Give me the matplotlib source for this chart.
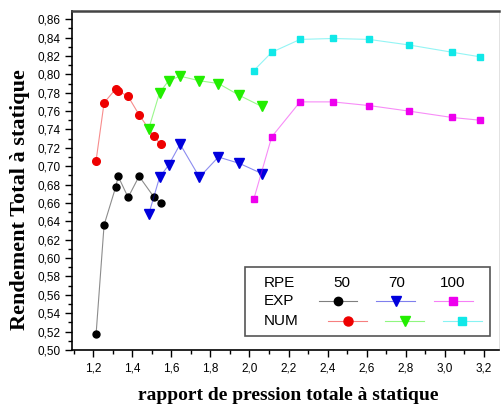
import numpy as np
import matplotlib
matplotlib.use("Agg")
import matplotlib.pyplot as plt
from matplotlib.lines import Line2D
from matplotlib.patches import Rectangle
from matplotlib.ticker import MultipleLocator, FuncFormatter

# values
x50 = [1.215, 1.256, 1.315, 1.328, 1.379, 1.435, 1.509, 1.545]
exp50 = [0.517, 0.636, 0.677, 0.689, 0.666, 0.689, 0.667, 0.660]
num50 = [0.706, 0.769, 0.784, 0.782, 0.776, 0.756, 0.733, 0.724]

x70 = [1.485, 1.540, 1.586, 1.645, 1.744, 1.841, 1.949, 2.063]
exp70 = [0.648, 0.688, 0.701, 0.724, 0.688, 0.710, 0.703, 0.692]
num70 = [0.741, 0.780, 0.793, 0.798, 0.793, 0.790, 0.777, 0.765]

x100 = [2.022, 2.114, 2.259, 2.426, 2.612, 2.815, 3.038, 3.182]
exp100 = [0.664, 0.732, 0.770, 0.770, 0.766, 0.760, 0.753, 0.750]
num100 = [0.804, 0.824, 0.838, 0.839, 0.838, 0.832, 0.824, 0.819]

rpe_labels = ["50", "70", "100"]

plt.rcParams['font.family'] = ['Liberation Sans', 'DejaVu Sans']

fig = plt.figure(figsize=(5.03, 4.05), dpi=100)
ax = fig.add_axes([0.144, 0.136, 0.848, 0.837])

series = [
    (x50, exp50, "black", "o", 5),
    (x50, num50, "#ee0000", "o", 5.5),
    (x70, exp70, "#0000dd", "v", 6.5),
    (x70, num70, "#22ee00", "v", 6.5),
    (x100, exp100, "#ee00ee", "s", 5),
    (x100, num100, "#11e8e8", "s", 5),
]
for xs, ys, c, m, ms in series:
    ax.plot(xs, ys, color=c, lw=0.8, alpha=0.45)
    ax.plot(xs, ys, ls="none", marker=m, color=c, ms=ms)

ax.set_xlim(1.094, 3.277)
ax.set_ylim(0.50, 0.869)
ax.xaxis.set_major_locator(MultipleLocator(0.2))
ax.xaxis.set_minor_locator(MultipleLocator(0.1))
ax.yaxis.set_major_locator(MultipleLocator(0.02))
ax.yaxis.set_minor_locator(MultipleLocator(0.01))
ax.xaxis.set_major_formatter(FuncFormatter(lambda v, p: ("%.1f" % v).replace(".", ",")))
ax.yaxis.set_major_formatter(FuncFormatter(lambda v, p: ("%.2f" % v).replace(".", ",")))
ax.tick_params(which="both", direction="out", labelsize=8.5, top=False, right=False)
ax.tick_params(which="major", length=5, width=1)
ax.tick_params(which="minor", length=3, width=1)
ax.tick_params(axis="x", pad=4)

ax.spines["top"].set_color("#444444")
ax.spines["top"].set_linewidth(1.8)
ax.spines["right"].set_color("#dddddd")
ax.spines["right"].set_linewidth(0.6)
ax.spines["left"].set_linewidth(1.2)
ax.spines["bottom"].set_linewidth(1.2)

ax.set_xlabel("rapport de pression totale à statique", family="Liberation Serif",
              fontweight="bold", fontsize=14, va="center")
ax.set_ylabel("Rendement Total à statique", family="Liberation Serif",
              fontweight="bold", fontsize=16, va="center")
ax.xaxis.set_label_coords(0.506, -0.133)
ax.yaxis.set_label_coords(-0.123, 0.445)

# custom table-style legend, placed in pixel terms of the 503x405 canvas
inv = ax.transAxes.inverted()
def to_ax(px, py):
    return inv.transform((px, 405 - py))

x0, y0 = to_ax(245.3, 335.7)
x1, y1 = to_ax(490.3, 267.3)
ax.add_patch(Rectangle((x0, y0), x1 - x0, y1 - y0, transform=ax.transAxes,
                       fill=False, edgecolor="#555555", lw=1.2, zorder=5))

tx, ty = to_ax(263.3, 282.7)
ax.text(tx, ty, "RPE", transform=ax.transAxes, fontsize=11, va="center", ha="left")
for lab, cx in zip(rpe_labels, [341.7, 396.7, 452.3]):
    px, py = to_ax(cx, 282.7)
    ax.text(px, py, lab, transform=ax.transAxes, fontsize=11, va="center", ha="center")
for name, ry in [("EXP", 301), ("NUM", 321)]:
    px, py = to_ax(263.3, ry)
    ax.text(px, py, name, transform=ax.transAxes, fontsize=11, va="center", ha="left")

legend_rows = [
    (301, [(319.3, 357.3, 338.3), (376, 415, 395.7), (434, 472.7, 453.3)], [series[0], series[2], series[4]]),
    (321, [(328.3, 366.7, 347.7), (385, 424, 404.7), (443.3, 481.7, 462.3)], [series[1], series[3], series[5]]),
]
for ry, spans, sers in legend_rows:
    for (a, b, m), s in zip(spans, sers):
        xa, ya = to_ax(a, ry)
        xb, _ = to_ax(b, ry)
        xm, _ = to_ax(m, ry)
        ax.add_line(Line2D([xa, xb], [ya, ya], transform=ax.transAxes, color=s[2], lw=0.8, alpha=0.5))
        ax.add_line(Line2D([xm], [ya], transform=ax.transAxes, color=s[2], marker=s[3],
                           ms=s[4] + 1, ls="none"))

fig.savefig("out.png", dpi=100)
